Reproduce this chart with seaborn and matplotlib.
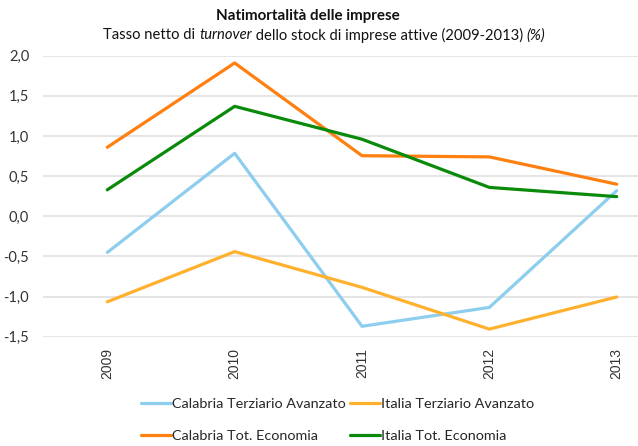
import matplotlib
matplotlib.use("Agg")
import matplotlib.pyplot as plt
import seaborn as sns
import pandas as pd
from matplotlib.lines import Line2D

years = ["2009", "2010", "2011", "2012", "2013"]
calabria_terziario = [-0.45, 0.785, -1.37, -1.135, 0.32]
italia_terziario = [-1.065, -0.44, -0.885, -1.405, -1.005]
calabria_tot = [0.86, 1.91, 0.755, 0.74, 0.40]
italia_tot = [0.33, 1.37, 0.96, 0.36, 0.245]
yticks = [-1.5, -1.0, -0.5, 0.0, 0.5, 1.0, 1.5, 2.0]

series = {
    "Calabria Terziario Avanzato": calabria_terziario,
    "Italia Terziario Avanzato": italia_terziario,
    "Calabria Tot. Economia": calabria_tot,
    "Italia Tot. Economia": italia_tot,
}
colors = {
    "Calabria Terziario Avanzato": "#8DCDEE",
    "Italia Terziario Avanzato": "#FFB12E",
    "Calabria Tot. Economia": "#FF7F10",
    "Italia Tot. Economia": "#0A8A0A",
}

rows = []
for name, vals in series.items():
    for i, (y, v) in enumerate(zip(years, vals)):
        rows.append({"pos": i, "anno": y, "serie": name, "valore": v})
df = pd.DataFrame(rows)

sns.set_style("white")
plt.rcParams["font.family"] = ["Lato", "DejaVu Sans"]

fig = plt.figure(figsize=(6.38, 4.46), dpi=100)
ax = fig.add_axes([0.0674, 0.245, 0.9326, 0.63])

sns.lineplot(data=df, x="pos", y="valore", hue="serie", palette=colors,
             hue_order=list(series.keys()), linewidth=2.3, ax=ax,
             legend=False, sort=False)

ax.set_xlim(-0.505, 4.167)
ax.set_ylim(-1.5, 2.0)
ax.set_yticks(yticks)
ax.set_yticklabels([f"{t:.1f}".replace(".", ",") for t in yticks],
                   fontsize=10.5, color="#333333")
ax.set_xticks(range(len(years)))
ax.set_xticklabels(years, rotation=90, fontsize=10, color="#333333",
                   family=["Liberation Sans", "DejaVu Sans"])
ax.tick_params(axis="y", length=0, pad=10)
ax.tick_params(axis="x", length=0, pad=8)
ax.set_xlabel("")
ax.set_ylabel("")
ax.grid(axis="y", color="#E0E0E0", linewidth=1.2)
ax.set_axisbelow(True)
for s in ax.spines.values():
    s.set_visible(False)

fig.text(0.483, 0.964, "Natimortalità delle imprese", ha="center", va="center",
         fontsize=10.9, fontweight="bold", color="#111111")

# subtitle assembled from pieces to italicise "turnover" and "(%)"
parts = [("Tasso netto di ", "normal"), ("turnover", "italic"),
         (" dello stock di imprese attive (2009-2013) ", "normal"), ("(%)", "italic")]
fig.canvas.draw()
renderer = fig.canvas.get_renderer()
widths = []
objs = []
for txt, style in parts:
    t = fig.text(0, 0.921, txt, ha="left", va="center", fontsize=10.65,
                 style=style, color="#111111")
    objs.append(t)
    widths.append(t.get_window_extent(renderer).width)
total = sum(widths)
x0 = 0.5086 * fig.bbox.width - total / 2
for t, w in zip(objs, widths):
    t.set_x(x0 / fig.bbox.width)
    x0 += w

order = ["Calabria Terziario Avanzato", "Calabria Tot. Economia",
         "Italia Terziario Avanzato", "Italia Tot. Economia"]
handles = [Line2D([], [], color=colors[n], linewidth=2.3) for n in order]
fig.legend(handles, order, loc="center", bbox_to_anchor=(0.529, 0.058), ncol=2,
           frameon=False, fontsize=10.4, handlelength=2.08, handletextpad=0.1,
           columnspacing=0.25, labelspacing=1.35, borderpad=0)

fig.savefig("out.png", dpi=100)
